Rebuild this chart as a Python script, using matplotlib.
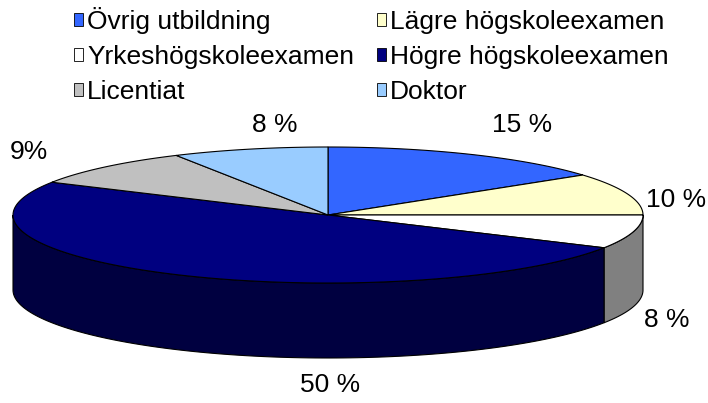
import numpy as np
import matplotlib
matplotlib.use('Agg')
import matplotlib.pyplot as plt
from matplotlib.patches import Polygon, Patch

plt.rcParams['font.family'] = ['Liberation Sans', 'DejaVu Sans']

# Data
categories = ['Övrig utbildning', 'Lägre högskoleexamen', 'Yrkeshögskoleexamen',
              'Högre högskoleexamen', 'Licentiat', 'Doktor']
shares = [15, 10, 8, 50, 9, 8]
value_labels = ['15 %', '10 %', '8 %', '50 %', '9%', '8 %']

# Style
colors = ['#3366FF', '#FFFFCC', '#FFFFFF', '#000080', '#C0C0C0', '#99CCFF']
side_colors = ['#1A3380', '#808066', '#808080', '#000040', '#606060', '#4C6680']
label_pos = [(522, 125), (676, 200), (667, 320), (330, 385), (29, 152), (275, 125)]

# pie geometry in pixel coordinates
cx, cy, a, b, depth = 328, 215, 315, 68, 75

fig = plt.figure(figsize=(7.08, 4.03), dpi=100)
ax = fig.add_axes([0, 0, 1, 1])
ax.set_xlim(0, 708)
ax.set_ylim(403, 0)
ax.axis('off')


def arc(t0, t1, n=120):
    t = np.radians(np.linspace(t0, t1, n))
    return np.column_stack([cx + a * np.cos(t), cy - b * np.sin(t)])


# angles: start at 12 o'clock, go clockwise
bounds = 90 - 3.6 * np.concatenate([[0], np.cumsum(shares)])

# side walls (only the front half is visible)
for i in range(len(shares)):
    t0, t1 = bounds[i], bounds[i + 1]
    lo, hi = max(t1, -180), min(t0, 0)
    if lo < hi:
        top = arc(lo, hi)
        bot = top[::-1] + [0, depth]
        ax.add_patch(Polygon(np.vstack([top, bot]), closed=True,
                             facecolor=side_colors[i], edgecolor='black', lw=0.8))

# top faces
for i in range(len(shares)):
    t0, t1 = bounds[i], bounds[i + 1]
    pts = np.vstack([[cx, cy], arc(t0, t1)])
    ax.add_patch(Polygon(pts, closed=True, facecolor=colors[i],
                         edgecolor='black', lw=0.8))

for txt, (x, y) in zip(value_labels, label_pos):
    ax.text(x, y, txt, ha='center', va='center', fontsize=19)

order = [0, 2, 4, 1, 3, 5]
handles = [Patch(facecolor=colors[i], edgecolor='black', lw=0.6) for i in order]
fig.legend(handles, [categories[i] for i in order], ncol=2, loc='upper left',
           bbox_to_anchor=(74 / 708, 1 - 7 / 403), frameon=False, fontsize=19,
           handlelength=0.35, handleheight=0.35, handletextpad=0.15,
           labelspacing=0.42, columnspacing=0.85, borderpad=0, borderaxespad=0)

plt.savefig('out.png', dpi=100)
